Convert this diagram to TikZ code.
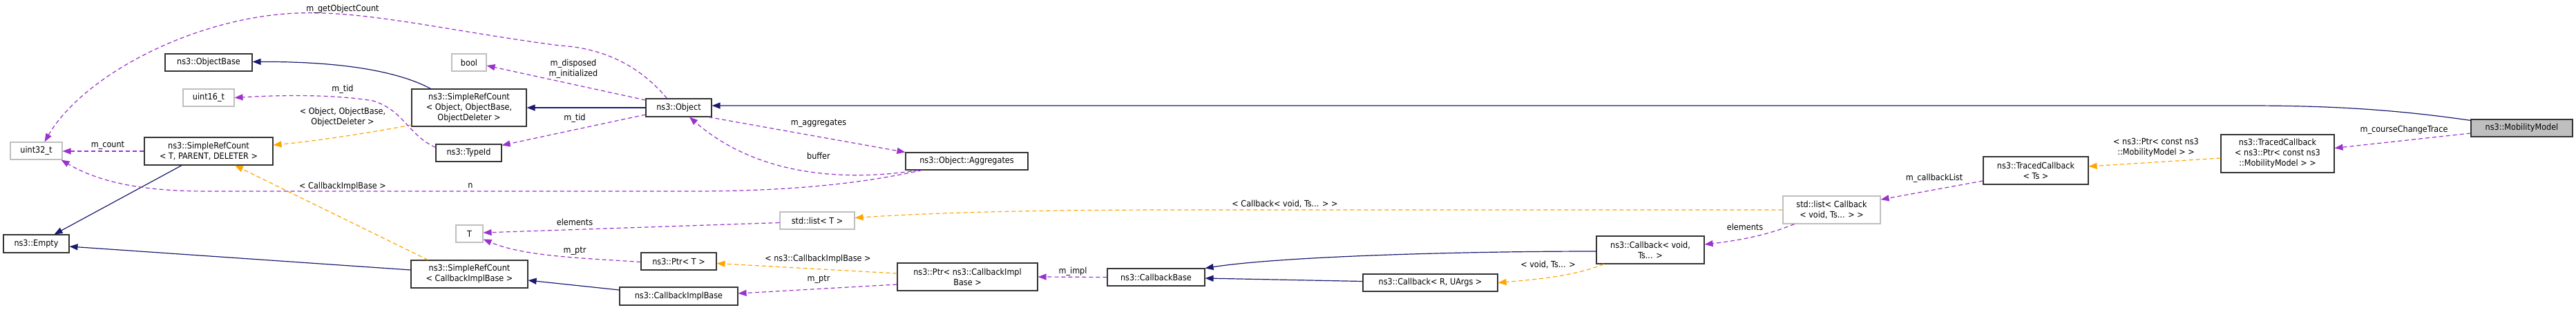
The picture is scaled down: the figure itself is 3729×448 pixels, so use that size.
\documentclass[tikz,border=0pt]{standalone}
\usepackage{fontspec}
\setmainfont{DejaVu Sans Condensed}
\usetikzlibrary{arrows.meta}
\definecolor{inh}{HTML}{191970}
\definecolor{use}{HTML}{9A32CD}
\definecolor{tpl}{HTML}{FFA500}
\definecolor{gbd}{HTML}{BFBFBF}
\tikzset{
  box/.style={draw=black!80, line width=1.1pt, inner sep=0pt, align=center, font=\fontsize{12.5}{15}\selectfont},
  gbox/.style={box, draw=gbd},
  lbl/.style={inner sep=0pt, align=center, font=\fontsize{12.5}{15}\selectfont},
  inhe/.style={draw=inh, line width=1.2pt, -{Triangle[length=12pt,width=9pt]}},
  usee/.style={draw=use, line width=1.2pt, dash pattern=on 6pt off 4pt, -{Triangle[length=12pt,width=9pt]}},
  tple/.style={draw=tpl, line width=1.2pt, dash pattern=on 6pt off 4pt, -{Triangle[length=12pt,width=9pt]}},
}
\begin{document}
\begin{tikzpicture}[x=1pt,y=-1pt]
\useasboundingbox (0,0) rectangle (3729,448);
% nodes
\node[box, fill=gbd, minimum width=147pt, minimum height=25pt] (mm) at (3650.5,185.5) {ns3::MobilityModel};
\node[box, minimum width=164pt, minimum height=55pt] (tcp) at (3297,222.5) {ns3::TracedCallback\\< ns3::Ptr< const ns3\\::MobilityModel > >};
\node[box, minimum width=152pt, minimum height=40pt] (tcts) at (2947,247) {ns3::TracedCallback\\< Ts >};
\node[gbox, minimum width=141pt, minimum height=40pt] (lcb) at (2651.5,304) {std::list< Callback\\< void, Ts... > >};
\node[box, minimum width=156pt, minimum height=40pt] (cbv) at (2389,362) {ns3::Callback< void,\\Ts... >};
\node[box, minimum width=195pt, minimum height=25pt] (cbr) at (2070.5,409.5) {ns3::Callback< R, UArgs >};
\node[box, minimum width=141pt, minimum height=25pt] (cbb) at (1673.5,401.5) {ns3::CallbackBase};
\node[box, minimum width=203pt, minimum height=40pt] (pcib) at (1400.5,401) {ns3::Ptr< ns3::CallbackImpl\\Base >};
\node[box, minimum width=171pt, minimum height=26pt] (cib) at (982.5,429) {ns3::CallbackImplBase};
\node[box, minimum width=109pt, minimum height=25pt] (ptrt) at (982.5,378.5) {ns3::Ptr< T >};
\node[gbox, minimum width=108pt, minimum height=25pt] (listt) at (1183,319.5) {std::list< T >};
\node[gbox, minimum width=39pt, minimum height=25pt] (t) at (679.5,338.5) {T};
\node[box, minimum width=169pt, minimum height=40pt] (srccib) at (679.5,397) {ns3::SimpleRefCount\\< CallbackImplBase >};
\node[box, minimum width=177pt, minimum height=25pt] (agg) at (1399.5,233.5) {ns3::Object::Aggregates};
\node[box, minimum width=95pt, minimum height=26pt] (obj) at (982.5,156) {ns3::Object};
\node[box, minimum width=166pt, minimum height=54pt] (srcobj) at (679,156) {ns3::SimpleRefCount\\< Object, ObjectBase,\\ObjectDeleter >};
\node[box, minimum width=95pt, minimum height=25pt] (typeid) at (678.5,221.5) {ns3::TypeId};
\node[gbox, minimum width=50pt, minimum height=25pt] (bool) at (679,90.5) {bool};
\node[box, minimum width=126pt, minimum height=25pt] (objbase) at (302,90.5) {ns3::ObjectBase};
\node[gbox, minimum width=74pt, minimum height=25pt] (u16) at (302,141.5) {uint16\_t};
\node[box, minimum width=186pt, minimum height=40pt] (srct) at (302,219) {ns3::SimpleRefCount\\< T, PARENT, DELETER >};
\node[gbox, minimum width=75pt, minimum height=25pt] (u32) at (52.5,218.5) {uint32\_t};
\node[box, minimum width=95pt, minimum height=26pt] (empty) at (52.5,353) {ns3::Empty};
% edges
\draw[inhe] ([yshift=-2pt]mm.north west) .. controls (3450,156) and (3350,153) .. (3250,153) -- ([yshift=3pt]obj.east);
\draw[usee] ([yshift=-7.5pt]mm.west) -- ([yshift=8pt]tcp.east);
\draw[tple] ([yshift=-6.5pt]tcp.west) -- ([yshift=6pt]tcts.east);
\draw[usee] ([yshift=-15pt]tcts.west) -- ([yshift=15pt]lcb.east);
\draw[usee] ([xshift=17pt]lcb.south west) .. controls (2560,340) and (2520,348) .. ([yshift=8pt]cbv.east);
\draw[tple] (lcb.west) -- (1700,304) .. controls (1450,304) and (1320,310) .. ([yshift=4pt]listt.east);
\draw[inhe] ([yshift=-2pt]cbv.west) .. controls (2100,364) and (1850,372) .. (cbb.north east);
\draw[tple] ([xshift=11pt]cbv.south west) .. controls (2280,400) and (2220,405) .. (cbr.east);
\draw[inhe] ([yshift=2pt]cbr.west) -- ([yshift=-1.5pt]cbb.east);
\draw[usee] (cbb.west) -- (pcib.east);
\draw[tple] ([yshift=5pt]pcib.west) -- ([yshift=-3pt]ptrt.east);
\draw[usee] ([yshift=-11pt]pcib.west) -- ([yshift=4pt]cib.east);
\draw[inhe] ([yshift=9pt]cib.west) -- ([yshift=-9pt]srccib.east);
\draw[inhe] ([yshift=6pt]srccib.west) -- ([yshift=-4pt]empty.east);
\draw[tple] ([xshift=25pt]srccib.north west) -- ([xshift=38pt]srct.south);
\draw[inhe] ([xshift=-39pt]srct.south) -- ([xshift=26pt]empty.north);
\draw[usee] (srct.west) -- ([yshift=-0.5pt]u32.east);
\draw[tple] ([yshift=-25pt]srcobj.west) .. controls (520,195) and (450,205) .. ([yshift=9pt]srct.east);
\draw[inhe] ([xshift=28pt]srcobj.north west) .. controls (570,100) and (480,89) .. ([yshift=1pt]objbase.east);
\draw[inhe] (obj.west) -- (srcobj.east);
\draw[usee] ([yshift=11pt]obj.west) -- ([yshift=-4.5pt]bool.east);
\draw[usee] ([yshift=-10pt]obj.west) -- ([yshift=-2pt]typeid.north east);
\draw[usee] ([xshift=-5pt]obj.south east) -- (agg.north west);
\draw[usee] ([xshift=19pt]agg.south west) .. controls (1230,262) and (1100,258) .. ([xshift=15.5pt]obj.south);
\draw[usee] ([xshift=24pt]agg.south west) .. controls (1250,265) and (1150,277) .. (1000,277) -- (300,277) .. controls (200,277) and (140,262) .. ([xshift=-2pt]u32.south east);
\draw[usee] ([xshift=-17pt]obj.north) .. controls (930,100) and (880,70) .. (810,66) .. controls (650,45) and (530,15) .. (430,19) .. controls (280,25) and (120,110) .. ([xshift=12pt]u32.north);
\draw[usee] ([yshift=8pt]typeid.west) .. controls (590,195) and (585,160) .. (540,146) .. controls (480,136) and (400,138) .. (u16.east);
\draw[usee] ([yshift=-1pt]ptrt.west) .. controls (850,374) and (760,372) .. ([yshift=-8pt]t.east);
\draw[usee] ([yshift=-3pt]listt.west) -- ([yshift=1.5pt]t.east);
% labels
\node[lbl] (l1) at (496,13) {m\_getObjectCount};
\node[lbl] (l2) at (156,211) {m\_count};
\node[lbl] (l3) at (496,129) {m\_tid};
\node[lbl] (l4) at (496,170) {< Object, ObjectBase,\\ObjectDeleter >};
\node[lbl] (l5) at (496,270) {< CallbackImplBase >};
\node[lbl] (l6) at (681,269) {n};
\node[lbl] (l7) at (830,100) {m\_disposed\\m\_initialized};
\node[lbl] (l8) at (832,171) {m\_tid};
\node[lbl] (l9) at (1185,179) {m\_aggregates};
\node[lbl] (l10) at (1185,226) {buffer};
\node[lbl] (l11) at (832,322) {elements};
\node[lbl] (l12) at (832,364) {m\_ptr};
\node[lbl] (l13) at (1184,375) {< ns3::CallbackImplBase >};
\node[lbl] (l14) at (1185,405) {m\_ptr};
\node[lbl] (l15) at (1553,393) {m\_impl};
\node[lbl] (l16) at (1860,295) {< Callback< void, Ts... > >};
\node[lbl] (l17) at (2241,383) {< void, Ts... >};
\node[lbl] (l18) at (2526,329) {elements};
\node[lbl] (l19) at (2800,258) {m\_callbackList};
\node[lbl] (l20) at (3121,214) {< ns3::Ptr< const ns3\\::MobilityModel > >};
\node[lbl] (l21) at (3480,188) {m\_courseChangeTrace};
\end{tikzpicture}
\end{document}
